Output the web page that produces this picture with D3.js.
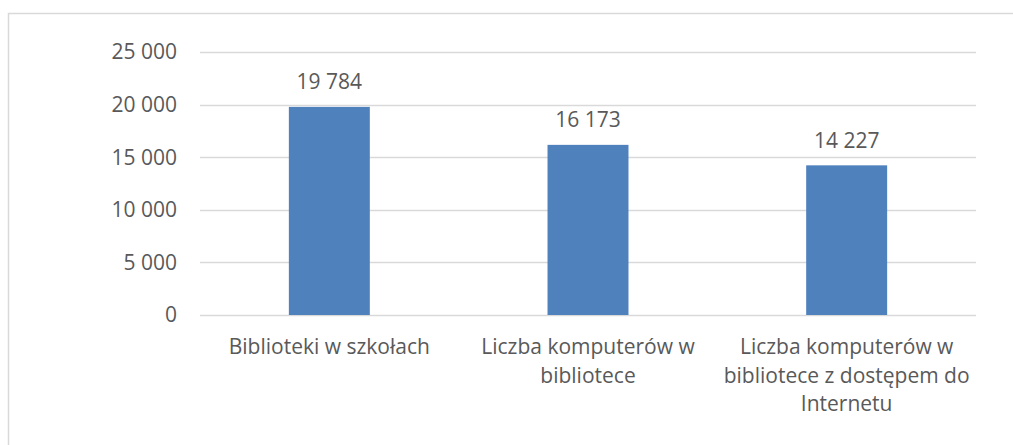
<!DOCTYPE html>
<html>
<head>
<meta charset="utf-8">
<script src="https://cdn.jsdelivr.net/npm/d3@7"></script>
<style>
  body { margin: 0; background: #fff; }
  svg text { font-family: "Open Sans", sans-serif; fill: #595959; }
</style>
</head>
<body>
<div class="chart"></div>
<script>
const w = 1013;
const h = 445;

// data
const categories = [
  ["Biblioteki w szkołach"],
  ["Liczba komputerów w", "bibliotece"],
  ["Liczba komputerów w", "bibliotece z dostępem do", "Internetu"]
];
const values = [19784, 16173, 14227];
const yTicks = [0, 5000, 10000, 15000, 20000, 25000];

const margin = {top: 52, left: 200, right: 37, bottom: 130};

const svg = d3.select(".chart").append("svg")
  .attr("width", w)
  .attr("height", h);

// outer frame
svg.append("rect")
  .attr("x", 8.5).attr("y", 13.5)
  .attr("width", 1010).attr("height", 440)
  .attr("fill", "none")
  .attr("stroke", "#d9d9d9")
  .attr("stroke-width", 1.5);

const x = d3.scaleBand()
  .domain(d3.range(categories.length))
  .range([margin.left, w - margin.right])
  .paddingInner(0.687)
  .paddingOuter(0.3435);

const y = d3.scaleLinear()
  .domain([0, 25000])
  .range([h - margin.bottom, margin.top]);

const fmt = v => d3.format(",")(v).replace(/,/g, " ");

// gridlines
svg.append("g")
  .selectAll("line")
  .data(yTicks)
  .enter().append("line")
  .attr("x1", margin.left)
  .attr("x2", w - margin.right)
  .attr("y1", d => Math.round(y(d)) + 0.5)
  .attr("y2", d => Math.round(y(d)) + 0.5)
  .attr("stroke", "#d9d9d9")
  .attr("stroke-width", 1.3);

// y labels
svg.append("g")
  .selectAll("text")
  .data(yTicks)
  .enter().append("text")
  .attr("x", margin.left - 23)
  .attr("y", d => y(d))
  .attr("dy", "0.35em")
  .attr("text-anchor", "end")
  .style("font-size", "21px")
  .text(fmt);

// bars
svg.append("g")
  .selectAll("rect")
  .data(values)
  .enter().append("rect")
  .attr("x", (d, i) => x(i))
  .attr("width", x.bandwidth())
  .attr("y", d => y(d))
  .attr("height", d => y(0) - y(d))
  .attr("fill", "#4f81bd");

// value labels
svg.append("g")
  .selectAll("text")
  .data(values)
  .enter().append("text")
  .attr("x", (d, i) => x(i) + x.bandwidth() / 2)
  .attr("y", d => y(d) - 25)
  .attr("dy", "0.35em")
  .attr("text-anchor", "middle")
  .style("font-size", "21px")
  .text(fmt);

// category labels
const cat = svg.append("g")
  .selectAll("text")
  .data(categories)
  .enter().append("text")
  .attr("x", (d, i) => x(i) + x.bandwidth() / 2)
  .attr("y", y(0) + 32)
  .attr("text-anchor", "middle")
  .style("font-size", "21px");

cat.selectAll("tspan")
  .data(d => d)
  .enter().append("tspan")
  .attr("x", function() { return this.parentNode.getAttribute("x"); })
  .attr("dy", (d, i) => i === 0 ? "0.35em" : "28.5px")
  .text(d => d);
</script>
</body>
</html>
